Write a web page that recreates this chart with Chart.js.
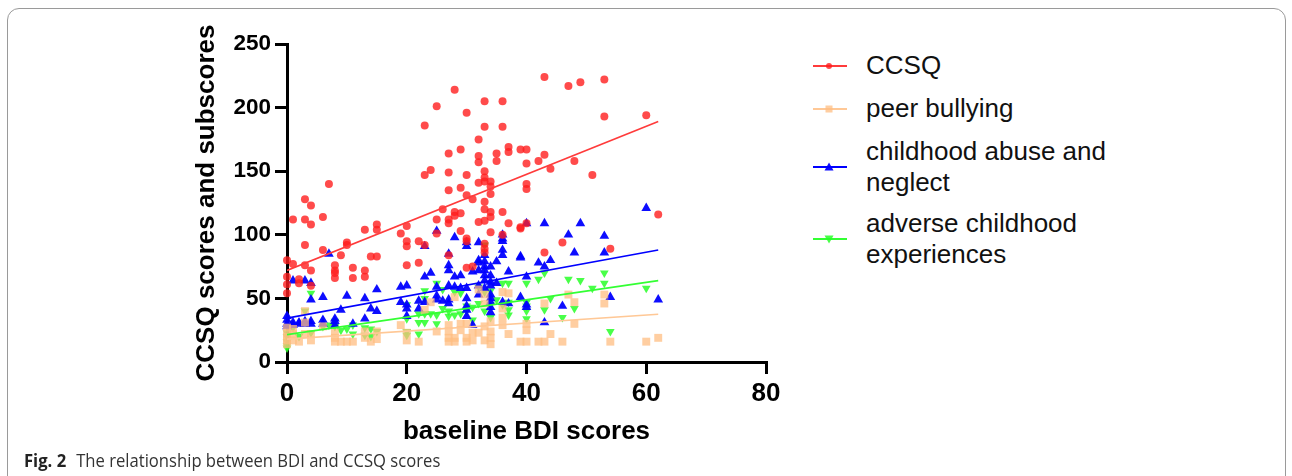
<!DOCTYPE html>
<html>
<head>
<meta charset="utf-8">
<script src="https://cdn.jsdelivr.net/npm/chart.js@4.4.1/dist/chart.umd.min.js"></script>
<style>
  html, body { margin: 0; padding: 0; background: #fff; width: 1292px; height: 476px; overflow: hidden; }
  body { position: relative; font-family: 'Liberation Sans', Arial, sans-serif; }
  #frame { position: absolute; left: 7px; top: 8px; width: 1277px; height: 540px; border: 1px solid #9a9a9a; border-radius: 12px; }
  #plot { position: absolute; left: 0; top: 0; }
  .item { position: absolute; left: 812px; display: flex; align-items: center; }
  .item svg { flex: none; width: 36px; height: 14px; }
  .item span { margin-left: 18px; font-size: 26px; line-height: 31px; color: #111; }
  #caption { position: absolute; left: 24px; top: 448px; font-family: 'Open Sans', sans-serif; font-size: 17.5px; color: #333; white-space: nowrap; transform: scaleX(0.95); transform-origin: left top; }
  #caption b { color: #222; margin-right: 6px; }
</style>
</head>
<body>
<div id="frame"></div>
<canvas id="plot" width="800" height="476"></canvas>
<div id="legend"></div>
<div id="caption"><b>Fig. 2</b> The relationship between BDI and CCSQ scores</div>
<script>
// [baseline BDI, score] pairs
const ccsqPts = [
  [0,80],[0,67],[0,61],[0,54],[1,112],[1,77],[2,65],[2,62],
  [3,128],[3,112],[3,92],[3,76],[4,123],[4,108],[4,72],[4,60],
  [6,114],[6,88],[7,140],[8,76],[8,72],[8,70],[8,66],[9,84],
  [10,94],[10,92],[11,74],[11,66],[13,104],[13,72],[13,67],[14,83],
  [15,108],[15,104],[15,83],[19,101],[20,107],[20,95],[20,91],[20,76],
  [22,95],[22,78],[23,186],[23,147],[23,92],[24,151],[25,201],[25,112],
  [25,101],[26,120],[27,164],[27,149],[27,135],[27,112],[27,109],[27,84],
  [28,214],[28,118],[28,115],[29,167],[29,137],[29,117],[29,103],
  [30,196],[30,147],[30,131],[30,97],[30,95],[30,74],[31,128],[31,75],
  [32,175],[32,162],[32,157],[32,141],[32,110],
  [33,205],[33,185],[33,150],[33,145],[33,142],[33,126],[33,120],[33,111],[33,93],[33,89],[33,86],
  [34,142],[34,138],[34,132],[34,118],[34,114],[34,102],[35,164],[35,158],
  [36,205],[36,185],[36,118],[36,100],[37,169],[37,165],[37,109],
  [39,167],[39,106],[39,105],[40,167],[40,156],[40,140],[40,136],[40,109],
  [42,158],[43,224],[43,163],[43,86],[44,152],[46,94],[47,217],[48,158],
  [49,220],[51,147],[53,222],[53,193],[54,89],[60,194],[62,116]
];
const peerPts = [
  [0,27],[0,23],[0,20],[0,17],[0,14],[1,26],[1,22],[1,17],[2,16],
  [3,40],[3,31],[3,22],[4,22],[4,17],[6,28],[8,23],[8,19],[8,16],
  [9,16],[10,16],[11,16],[13,24],[13,19],[14,16],[15,24],[15,18],
  [19,29],[20,23],[20,17],[22,16],[23,41],[24,47],[25,24],
  [27,29],[27,24],[27,19],[27,16],[28,51],[28,19],[28,16],[29,30],[29,25],
  [30,30],[30,19],[30,16],[31,23],[31,17],[32,57],[32,23],
  [33,53],[33,46],[33,28],[33,17],[34,32],[34,24],[34,19],[34,14],
  [36,55],[36,42],[36,35],[36,29],[37,54],[37,22],[39,16],
  [40,30],[40,25],[40,16],[42,16],[43,46],[43,16],[44,22],[46,16],
  [47,53],[48,47],[48,30],[53,53],[53,46],[54,16],[60,16],[62,19]
];
const abusePts = [
  [0,36],[0,33],[0,30],[0,28],[1,64],[1,31],[1,29],[2,31],[2,30],
  [3,64],[3,32],[3,30],[4,62],[4,49],[4,32],[4,30],[6,51],[6,33],[6,30],
  [7,85],[8,34],[8,32],[8,29],[9,41],[10,52],[11,30],[13,50],[13,34],
  [14,42],[15,57],[15,40],[19,59],[19,47],[20,60],[20,45],[20,42],[20,36],
  [22,48],[22,42],[23,91],[23,67],[23,47],[24,70],[25,103],[25,59],[25,52],[25,49],
  [26,48],[27,85],[27,76],[27,72],[27,60],[27,49],[27,46],[28,98],[28,67],[28,59],
  [29,68],[29,58],[30,94],[30,91],[30,58],[30,50],[30,44],[30,41],[30,36],
  [31,71],[31,29],[32,94],[32,80],[32,78],[32,72],[32,60],[32,53],
  [33,84],[33,79],[33,75],[33,72],[33,68],[33,64],[33,58],
  [34,75],[34,68],[34,63],[34,60],[34,53],[34,50],[34,47],[34,43],[34,39],
  [35,79],[35,62],[36,100],[36,97],[36,95],[36,88],[36,84],[36,47],
  [37,71],[37,46],[39,83],[39,82],[39,51],[40,109],[40,67],[40,45],[40,43],
  [42,78],[43,109],[43,75],[43,31],[44,80],[46,44],[47,100],[48,86],
  [49,109],[53,99],[53,86],[54,51],[60,121],[62,49]
];
const adversePts = [
  [0,23],[0,20],[0,16],[0,13],[0,11],[1,27],[2,20],[3,40],[4,54],[4,23],
  [6,28],[7,29],[8,32],[8,28],[9,25],[10,26],[11,29],[11,22],[13,27],[13,21],
  [14,26],[14,20],[15,24],[20,45],[20,34],[20,24],[20,21],[22,38],[22,31],[22,22],
  [23,56],[23,50],[23,38],[23,31],[24,38],[25,62],[25,37],[25,30],[26,57],[26,42],
  [27,36],[27,40],[28,55],[28,37],[29,54],[29,38],[30,44],[30,40],[31,43],[31,33],
  [32,59],[32,46],[33,92],[33,55],[33,40],[34,56],[34,45],[34,35],[35,49],
  [36,62],[36,45],[37,62],[37,47],[37,41],[37,37],[40,62],[40,47],[40,44],[40,40],[40,34],
  [42,65],[43,70],[43,41],[44,50],[46,35],[47,65],[48,42],[49,64],[51,58],
  [53,70],[53,62],[54,24],[60,58]
];
// fitted lines, end points
const ccsqFit = [[0,72],[62,189]];
const peerFit = [[0,18],[62,37.5]];
const abuseFit = [[0,34.5],[62,88]];
const adverseFit = [[0,21.5],[62,64]];

const xTicks = [0, 20, 40, 60, 80];
const yTicks = [0, 50, 100, 150, 200, 250];

const series = [
  { label: 'CCSQ', pts: ccsqPts, fit: ccsqFit, color: 'rgba(255,30,30,0.8)', line: '#ff3b3b', style: 'circle', radius: 4, rot: 0 },
  { label: 'peer bullying', pts: peerPts, fit: peerFit, color: 'rgba(255,190,130,0.75)', line: '#ffc896', style: 'rect', radius: 5.6, rot: 0 },
  { label: 'childhood abuse and|neglect', pts: abusePts, fit: abuseFit, color: 'rgba(0,0,255,0.95)', line: '#0000ff', style: 'triangle', radius: 5.6, rot: 0 },
  { label: 'adverse childhood|experiences', pts: adversePts, fit: adverseFit, color: 'rgba(40,255,40,0.85)', line: '#33ff33', style: 'triangle', radius: 5, rot: 180 }
];

const toXY = a => a.map(p => ({ x: p[0], y: p[1] }));
const datasets = [];
series.forEach(function (s, i) {
  datasets.push({
    label: s.label, data: toXY(s.pts), order: i + 1, clip: false,
    pointStyle: s.style, pointRotation: s.rot, pointRadius: s.radius,
    backgroundColor: s.color, borderWidth: 0, pointBorderWidth: 0
  });
  datasets.push({
    label: s.label + ' fit', data: toXY(s.fit), order: 0, showLine: true,
    pointRadius: 0, borderColor: s.line, borderWidth: 1.6, fill: false
  });
});

const bold = size => ({ family: "'Liberation Sans', Arial, sans-serif", size: size, weight: 'bold' });

new Chart(document.getElementById('plot').getContext('2d'), {
  type: 'scatter',
  data: { datasets: datasets },
  options: {
    responsive: false, animation: false, devicePixelRatio: 1,
    layout: { padding: { left: 190, top: 44, right: 34, bottom: 29 } },
    plugins: { legend: { display: false }, tooltip: { enabled: false } },
    scales: {
      x: {
        type: 'linear', min: 0, max: 80,
        afterBuildTicks: sc => { sc.ticks = xTicks.map(v => ({ value: v })); },
        afterFit: sc => { sc.height = 85; },
        grid: { drawOnChartArea: false, drawTicks: true, tickLength: 12, lineWidth: 3, color: '#000' },
        border: { display: true, width: 3, color: '#000' },
        ticks: { color: '#000', font: bold(26), padding: 4, maxRotation: 0 },
        title: { display: true, text: 'baseline BDI scores', color: '#000', font: bold(26), padding: { top: 0, bottom: 0 } }
      },
      y: {
        type: 'linear', min: 0, max: 250,
        afterBuildTicks: sc => { sc.ticks = yTicks.map(v => ({ value: v })); },
        afterFit: sc => { sc.width = 97; },
        grid: { drawOnChartArea: false, drawTicks: true, tickLength: 12, lineWidth: 3, color: '#000' },
        border: { display: true, width: 3, color: '#000' },
        ticks: { color: '#000', font: bold(22.5), padding: 4 },
        title: { display: true, text: 'CCSQ scores and subscores', color: '#000', font: bold(26), padding: { top: 1, bottom: 0 } }
      }
    }
  }
});

// legend: line with marker, text to the right
const legendTops = [50, 93, 136, 208];
const legend = document.getElementById('legend');
series.forEach(function (s, i) {
  let mark;
  if (s.style === 'circle') mark = '<circle cx="17" cy="7" r="3" fill="' + s.color + '"/>';
  else if (s.style === 'rect') mark = '<rect x="13.5" y="3.5" width="7" height="7" fill="' + s.color + '"/>';
  else if (s.rot === 0) mark = '<polygon points="17,2.5 21.5,10.5 12.5,10.5" fill="' + s.color + '"/>';
  else mark = '<polygon points="17,11.5 21.5,3.5 12.5,3.5" fill="' + s.color + '"/>';
  const el = document.createElement('div');
  el.className = 'item';
  el.style.top = legendTops[i] + 'px';
  el.innerHTML = '<svg viewBox="0 0 36 14"><line x1="1" y1="7" x2="35" y2="7" stroke="' + s.line + '" stroke-width="2"/>' + mark + '</svg>' +
    '<span>' + s.label.split('|').join('<br>') + '</span>';
  legend.appendChild(el);
});
</script>
</body>
</html>
